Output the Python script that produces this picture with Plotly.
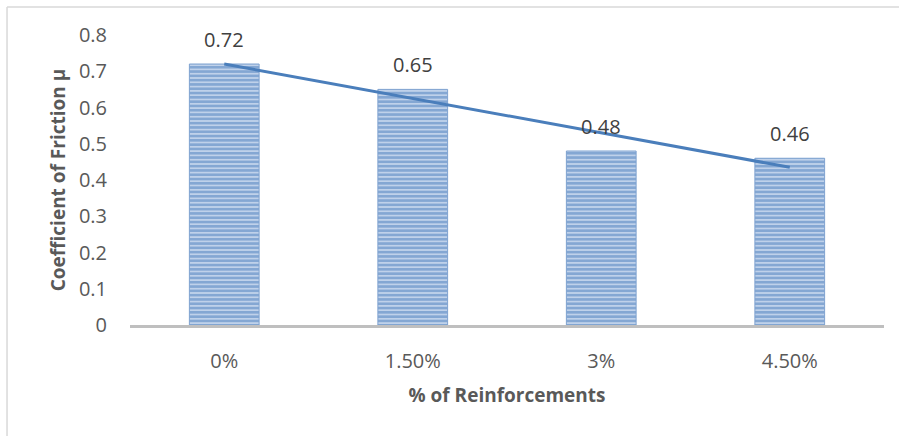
import numpy as np
import plotly.graph_objects as go

categories = ["0%", "1.50%", "3%", "4.50%"]
friction = [0.72, 0.65, 0.48, 0.46]
label_text = ["0.72", "0.65", "0.48", "0.46"]
y_ticks = [0, 0.1, 0.2, 0.3, 0.4, 0.5, 0.6, 0.7, 0.8]
y_tick_text = ["0", "0.1", "0.2", "0.3", "0.4", "0.5", "0.6", "0.7", "0.8"]

FONT = "'Open Sans', sans-serif"
BLUE = "#4a7ebb"

# linear trendline (least squares) as in Excel
xi = np.arange(1, len(friction) + 1)
slope, intercept = np.polyfit(xi, friction, 1)
trend = list(slope * xi + intercept)

fig = go.Figure()
fig.add_trace(go.Bar(
    x=categories, y=friction,
    marker=dict(
        color="#bfd1ea",
        line=dict(color="#7fa2d0", width=1),
        pattern=dict(shape="-", fgcolor=BLUE, bgcolor="#bfd1ea", size=4.3, solidity=0.6, fillmode="overlay"),
    ),
    showlegend=False, hoverinfo="skip",
))
fig.add_trace(go.Scatter(
    x=categories, y=trend, mode="lines",
    line=dict(color=BLUE, width=3), showlegend=False, hoverinfo="skip",
))

for c, v, t in zip(categories, friction, label_text):
    fig.add_annotation(x=c, y=v, text=t, showarrow=False, yshift=25,
                       font=dict(family=FONT, size=20, color="#404040"))

# chart-area frame (left and top edges)
fig.add_shape(type="line", xref="paper", yref="paper", x0=-0.1631, x1=1.03, y0=1.0966, y1=1.0966,
              line=dict(color="#d9d9d9", width=1.5))
fig.add_shape(type="line", xref="paper", yref="paper", x0=-0.1631, x1=-0.1631, y0=1.0966, y1=-0.42,
              line=dict(color="#d9d9d9", width=1.5))

fig.update_layout(
    width=899, height=436,
    margin=dict(l=130, r=15, t=35, b=111),
    paper_bgcolor="white", plot_bgcolor="white",
    bargap=0.63,
    font=dict(family=FONT, color="#595959"),
    xaxis=dict(
        showline=True, linecolor="#bfbfbf", linewidth=2.5,
        showgrid=False, ticks="", tickfont=dict(size=20, color="#595959"),
        ticklabelstandoff=16,
        title=dict(text="<b>% of Reinforcements</b>", font=dict(size=19, color="#595959"), standoff=16),
    ),
    yaxis=dict(
        range=[0, 0.8], tickvals=y_ticks, ticktext=y_tick_text,
        showgrid=False, zeroline=False, showline=False, ticks="",
        tickfont=dict(size=20, color="#595959"), ticklabelstandoff=22,
        title=dict(text="<b>Coefficient of Friction μ</b>", font=dict(size=19, color="#595959"), standoff=8),
    ),
)

fig.write_html("out.html")
